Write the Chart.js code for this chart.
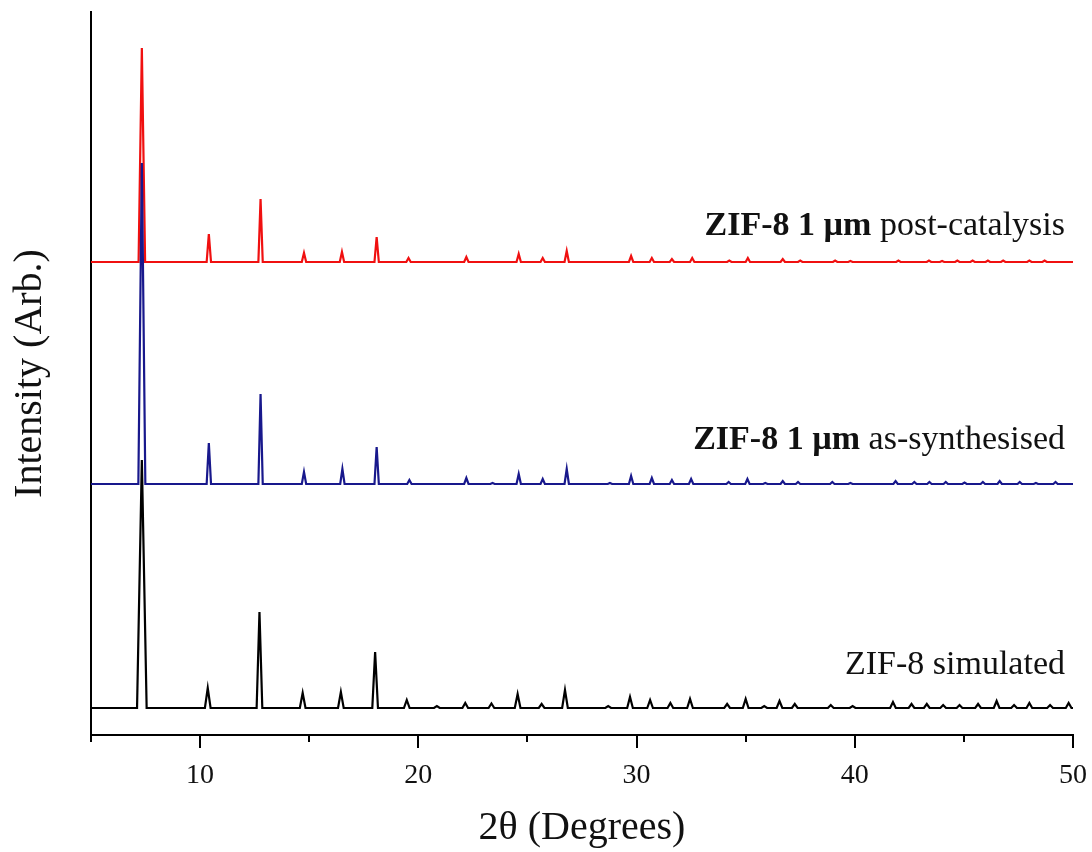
<!DOCTYPE html>
<html>
<head>
<meta charset="utf-8">
<title>ZIF-8 XRD</title>
<script src="https://cdn.jsdelivr.net/npm/chart.js@4.4.1/dist/chart.umd.min.js"></script>
<style>
    html, body { margin: 0; padding: 0; background: #fff; }
    .chart-box { width: 1092px; height: 852px; position: relative; }
</style>
</head>
<body>
<div class="chart-box">
    <canvas id="xrdChart"></canvas>
</div>
<script>
// ================= DATA =================

const xMin = 5;
const xMax = 50;
const xTickValues = [10, 20, 30, 40, 50];
const xMinorTicks = [5, 15, 25, 35, 45];

// y is in arbitrary units, each pattern sits on its own offset
const yMax = 723;

// ZIF-8 simulated (black)
const simBase = 27;
const simPeaks = [7.33, 10.35, 12.72, 14.7, 16.45, 18.02, 19.47, 20.85, 22.15, 23.35, 24.55, 25.65, 26.72, 28.7, 29.7, 30.62, 31.55, 32.45, 34.15, 35.0, 35.85, 36.55, 37.25, 38.9, 39.9, 41.75, 42.6, 43.3, 44.05, 44.8, 45.65, 46.5, 47.3, 48.0, 48.95, 49.8];
const simHeights = [248, 20, 96, 15, 16, 56, 8, 2, 5, 4.5, 14, 4, 18, 2, 11, 8, 5, 9, 4, 9, 2, 7, 4, 3, 2, 6, 4, 4, 3, 3, 4, 7, 3, 5, 3, 5];

// ZIF-8 1 um as-synthesised (blue)
const asBase = 251;
const asPeaks = [7.33, 10.4, 12.77, 14.76, 16.52, 18.09, 19.59, 22.2, 23.4, 24.6, 25.7, 26.8, 28.78, 29.75, 30.7, 31.62, 32.5, 34.22, 35.08, 35.9, 36.7, 37.4, 38.97, 39.8, 41.87, 42.73, 43.42, 44.17, 45.03, 45.87, 46.64, 47.56, 48.3, 49.2];
const asHeights = [321, 41, 90, 12, 15, 37, 4, 6, 1, 10, 5, 15, 1, 8, 6, 4, 5, 2, 5, 1, 3, 2, 2, 1, 3, 2, 2, 2, 1.5, 2, 3, 2, 1, 2];

// ZIF-8 1 um post-catalysis (red)
const postBase = 473;
const postPeaks = [7.33, 10.4, 12.77, 14.76, 16.5, 18.09, 19.55, 22.2, 24.6, 25.7, 26.8, 29.75, 30.7, 31.62, 32.55, 34.25, 35.1, 36.7, 37.5, 39.1, 39.8, 42.0, 43.4, 44.0, 44.7, 45.4, 46.1, 46.8, 48.0, 48.7];
const postHeights = [214, 28, 63, 9, 10, 25, 4, 5, 8, 4, 11, 6, 4, 3, 4, 1.5, 4, 3, 1.5, 1.5, 1, 1.5, 1.5, 1, 1.5, 1.5, 1.5, 1.5, 1.5, 1.5];

const seriesLabels = [
    { bold: "ZIF-8 1 \u00b5m", normal: " post-catalysis", base: postBase, dy: 36 },
    { bold: "ZIF-8 1 \u00b5m", normal: " as-synthesised", base: asBase, dy: 44 },
    { bold: "", normal: "ZIF-8 simulated", base: simBase, dy: 43 }
];

// ================= HELPERS =================

// turns a peak list into points (foot, top, foot) on a flat baseline
function buildPattern(peaks, heights, base, mainWidth, width){

    const pts = [{ x: xMin, y: base }];

    peaks.forEach((p, i) => {
        const w = i === 0 ? mainWidth : width;
        pts.push({ x: p - w, y: base });
        pts.push({ x: p, y: base + heights[i] });
        pts.push({ x: p + w, y: base });
    });

    pts.push({ x: xMax, y: base });
    return pts;
}

const serifFont = "'Liberation Serif', 'Times New Roman', serif";

// ================= PLUGINS =================

// major / minor tick marks under the x axis
const tickMarks = {
    id: "tickMarks",
    afterDraw(chart){
        const ctx = chart.ctx;
        const xs = chart.scales.x;
        const y0 = chart.chartArea.bottom;
        ctx.save();
        ctx.strokeStyle = "#000";
        ctx.lineWidth = 2;
        xTickValues.concat(xMinorTicks).forEach(v => {
            const px = Math.round(xs.getPixelForValue(v));
            const len = xTickValues.includes(v) ? 13 : 7;
            ctx.beginPath();
            ctx.moveTo(px, y0);
            ctx.lineTo(px, y0 + len);
            ctx.stroke();
        });
        ctx.restore();
    }
};

// text labels above each pattern
const patternLabels = {
    id: "patternLabels",
    afterDatasetsDraw(chart){
        const ctx = chart.ctx;
        const ys = chart.scales.y;
        const right = chart.chartArea.right - 8;
        ctx.save();
        ctx.fillStyle = "#111";
        ctx.textBaseline = "middle";
        ctx.textAlign = "right";
        seriesLabels.forEach(lab => {
            const y = ys.getPixelForValue(lab.base) - lab.dy;
            ctx.font = "34px " + serifFont;
            ctx.fillText(lab.normal, right, y);
            const w = ctx.measureText(lab.normal).width;
            if(lab.bold){
                ctx.font = "bold 34px " + serifFont;
                ctx.fillText(lab.bold, right - w, y);
            }
        });
        ctx.restore();
    }
};

// ================= CHART =================

const ctx = document.getElementById("xrdChart").getContext("2d");

new Chart(ctx, {
    type: "line",
    data: {
        datasets: [
            {
                label: "ZIF-8 simulated",
                data: buildPattern(simPeaks, simHeights, simBase, 0.22, 0.13),
                borderColor: "#000000",
                borderWidth: 2.2
            },
            {
                label: "ZIF-8 1 um as-synthesised",
                data: buildPattern(asPeaks, asHeights, asBase, 0.16, 0.1),
                borderColor: "#18188c",
                borderWidth: 2.2
            },
            {
                label: "ZIF-8 1 um post-catalysis",
                data: buildPattern(postPeaks, postHeights, postBase, 0.15, 0.1),
                borderColor: "#f01010",
                borderWidth: 2.2
            }
        ]
    },
    options: {
        responsive: true,
        maintainAspectRatio: false,
        animation: false,
        layout: {
            padding: { top: 12, right: 19, bottom: 0, left: 0 }
        },
        elements: {
            point: { radius: 0 },
            line: { tension: 0 }
        },
        plugins: {
            legend: { display: false },
            tooltip: { enabled: false }
        },
        scales: {
            x: {
                type: "linear",
                min: xMin,
                max: xMax,
                afterFit(scale){
                    scale.height = 117;
                    scale.paddingLeft = 0;
                    scale.paddingRight = 0;
                },
                afterBuildTicks(scale){
                    scale.ticks = xTickValues.map(v => ({ value: v }));
                },
                grid: { display: false },
                border: { display: true, color: "#000", width: 2 },
                ticks: {
                    color: "#111",
                    padding: 16,
                    maxRotation: 0,
                    font: { family: serifFont, size: 28 }
                },
                title: {
                    display: true,
                    text: "2\u03b8 (Degrees)",
                    color: "#111",
                    padding: { top: 0, bottom: 0 },
                    font: { family: serifFont, size: 40 }
                }
            },
            y: {
                min: 0,
                max: yMax,
                afterFit(scale){ scale.width = 91; },
                grid: { display: false },
                border: { display: true, color: "#000", width: 2 },
                ticks: { display: false },
                title: {
                    display: true,
                    text: "Intensity (Arb.)",
                    color: "#111",
                    padding: { top: 6, bottom: 0 },
                    font: { family: serifFont, size: 40 }
                }
            }
        }
    },
    plugins: [tickMarks, patternLabels]
});
</script>
</body>
</html>
